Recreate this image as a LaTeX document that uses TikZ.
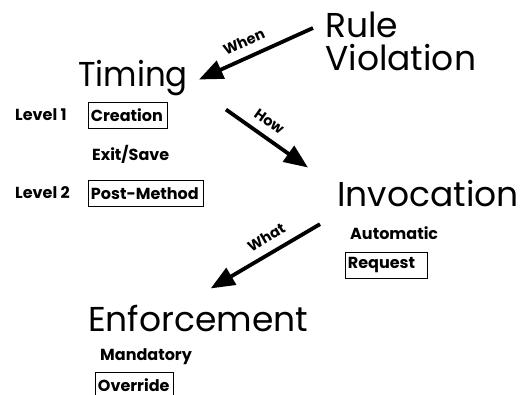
\documentclass[tikz,border=0pt]{standalone}
\usepackage{fontspec}
\setmainfont{Poppins}
\usetikzlibrary{arrows.meta,calc}
\begin{document}
\begin{tikzpicture}[x=1pt,y=-1pt,
  title/.style={font=\fontsize{34.5}{33}\selectfont, inner sep=0pt, anchor=base west},
  small/.style={font=\fontsize{16}{18}\selectfont\bfseries, inner sep=0pt, anchor=base west},
  boxed/.style={draw, line width=0.9pt, font=\fontsize{16}{18}\selectfont\bfseries,
    inner xsep=2.5pt, inner ysep=0pt, minimum height=26pt, anchor=north west, align=left},
  flow/.style={line width=3.8pt, -{Triangle[length=24pt,width=19pt]}},
  lbl/.style={font=\fontsize{14.5}{16}\selectfont\bfseries, sloped, above=5pt}]
\useasboundingbox (0,0) rectangle (520,395);

% concepts
\node[title, anchor=north west, align=left] (rv) at (325,12) {Rule\\Violation};
\node[title, xscale=0.94] (tim) at (78,87) {Timing};
\node[title] (inv) at (337,207) {Invocation};
\node[title] (enf) at (88,332) {Enforcement};

% timing levels
\node[small] (l1) at (15,121) {Level 1};
\node[boxed, text width=74pt] (cre) at (88,102) {Creation};
\node[small] (es) at (92,161) {Exit/Save};
\node[small] (l2) at (15,199) {Level 2};
\node[boxed, text width=110pt] (pm) at (88,180) {Post-Method};

% invocation
\node[small] (auto) at (350,240) {Automatic};
\node[boxed, text width=77pt] (req) at (345,252) {Request};

% enforcement
\node[small] (man) at (100,361) {Mandatory};
\node[boxed, text width=73pt] (ovr) at (95,372) {Override};

% connectors
\draw[flow] ($(rv.north west)+(-12,16)$) -- node[lbl, pos=0.55] {When} ($(tim.east)+(11,1)$);
\draw[flow] ($(tim.south east)+(38,13)$) -- node[lbl, pos=0.42] {How} ($(inv.north west)+(-29,-13)$);
\draw[flow] ($(auto.west)+(-30,-9.5)$) -- node[lbl, pos=0.42] {What} ($(enf.north)+(12.5,-17)$);
\end{tikzpicture}
\end{document}
